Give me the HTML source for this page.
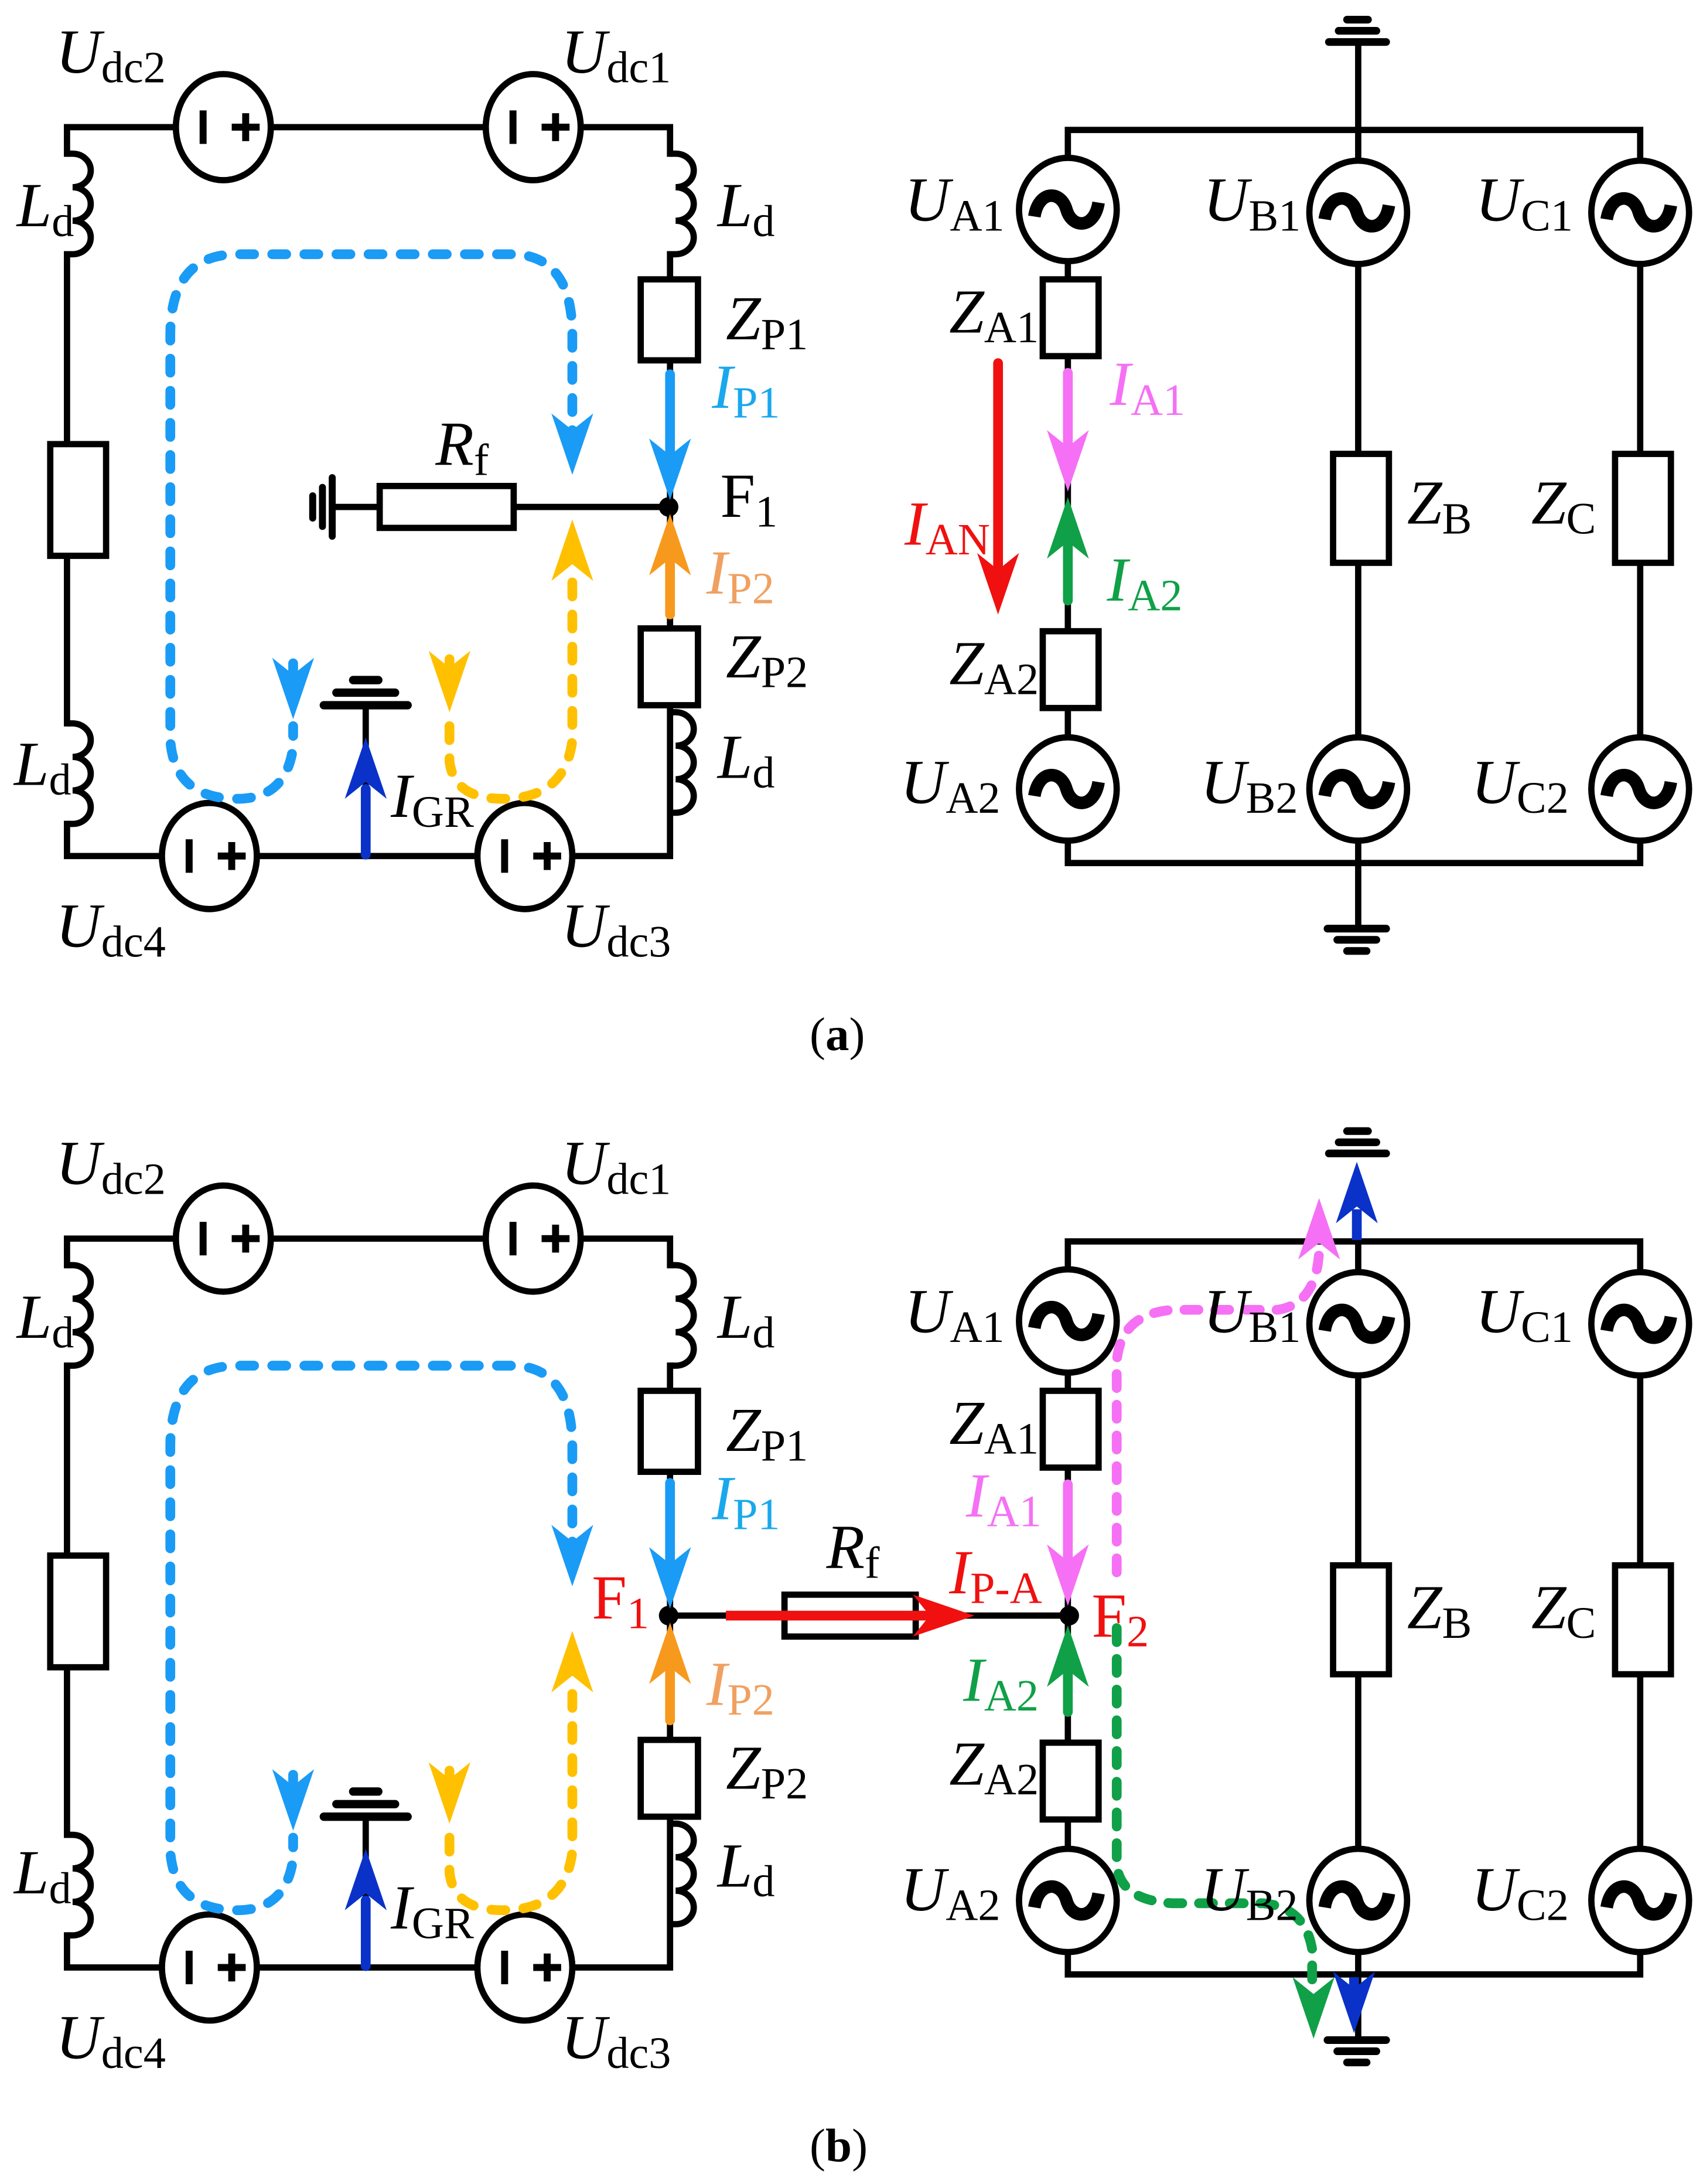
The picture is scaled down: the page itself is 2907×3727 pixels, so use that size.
<!DOCTYPE html>
<html><head><meta charset="utf-8"><style>
html,body{margin:0;padding:0;background:#fff}
svg{display:block}
text{font-family:"Liberation Serif","Times New Roman",serif}
</style></head><body>
<svg width="2907" height="3727" viewBox="0 0 1220 1564" xmlns="http://www.w3.org/2000/svg">
<defs>
<g id="dc"><ellipse cx="0" cy="0" rx="34" ry="38" fill="#fff" stroke="#000" stroke-width="4.5"/><rect x="-17" y="-12" width="5" height="24" fill="#000"/><rect x="6" y="-2.5" width="20" height="5" fill="#000"/><rect x="13.5" y="-10" width="5" height="20" fill="#000"/></g>
<g id="ac"><ellipse cx="0" cy="0" rx="35" ry="37" fill="#fff" stroke="#000" stroke-width="4.5"/><path d="M-24 5 C-21 -14 -5 -14 -1 0 C3 14 19 14 22 -5" fill="none" stroke="#000" stroke-width="9"/></g>
<path id="ind" d="M0 0 h4 a13 12 0 0 1 0 24 a13 12 0 0 1 0 24 a13 12 0 0 1 0 24 h-4" fill="none" stroke="#000" stroke-width="4.5"/>
<polygon id="ah" points="0,0 -15,-44 0,-32 15,-44"/>
</defs>

<g stroke="#000" stroke-width="4.5" fill="none" stroke-linecap="square">
<path d="M48 110 V91 H480 V110 M480 182 V613 H48 V590 M48 518 V182"/>
<line x1="240" y1="363" x2="478" y2="363"/>
<line x1="262" y1="613" x2="262" y2="505"/>
</g>
<use href="#ind" x="48" y="110"/><use href="#ind" x="48" y="518"/>
<use href="#ind" x="480" y="110"/><use href="#ind" x="480" y="510"/>
<g fill="#fff" stroke="#000" stroke-width="4.5">
<rect x="36" y="318" width="40" height="80"/>
<rect x="459" y="200" width="41" height="58"/>
<rect x="459" y="450" width="41" height="55"/>
<rect x="272" y="348" width="96" height="30"/>
</g>
<g stroke="#000" stroke-linecap="round">
<line x1="238" y1="342" x2="238" y2="384" stroke-width="5"/>
<line x1="231" y1="349" x2="231" y2="377" stroke-width="5"/>
<line x1="224" y1="355" x2="224" y2="371" stroke-width="5"/>
<line x1="232" y1="505" x2="292" y2="505" stroke-width="6"/>
<line x1="241" y1="496" x2="283" y2="496" stroke-width="6"/>
<line x1="253" y1="487" x2="271" y2="487" stroke-width="6"/>
</g>
<use href="#dc" x="160" y="91"/><use href="#dc" x="382" y="91"/>
<use href="#dc" x="150" y="613"/><use href="#dc" x="376" y="613"/>
<circle cx="479" cy="363" r="7" fill="#000"/>
<line x1="480" y1="268" x2="480" y2="330" stroke="#1a9bf5" stroke-width="7" stroke-linecap="round"/>
<use href="#ah" x="480" y="358" fill="#1a9bf5"/>
<line x1="480" y1="440" x2="480" y2="400" stroke="#f7991c" stroke-width="7" stroke-linecap="round"/>
<use href="#ah" transform="translate(480 368) rotate(180)" fill="#f7991c"/>
<line x1="262" y1="612" x2="262" y2="565" stroke="#0a32c8" stroke-width="7" stroke-linecap="round"/>
<use href="#ah" transform="translate(262 528) rotate(180)" fill="#0a32c8"/>
<g fill="none" stroke-width="7" stroke-linecap="round" stroke-dasharray="10 13">
<path d="M410 318 V240 Q410 185 370 182 H170 Q122 182 122 240 V530 Q125 572 170 572 Q205 572 210 535 V520" stroke="#1a9bf5"/>
<path d="M322 520 V545 Q325 572 360 572 Q405 572 410 530 V410" stroke="#ffc000"/>
</g>
<use href="#ah" x="410" y="340" fill="#1a9bf5"/>
<use href="#ah" x="210" y="515" fill="#1a9bf5"/>
<use href="#ah" x="322" y="510" fill="#ffc000"/>
<use href="#ah" transform="translate(410 372) rotate(180)" fill="#ffc000"/>
<line x1="322" y1="472" x2="322" y2="490" stroke="#ffc000" stroke-width="7" stroke-linecap="round"/>
<line x1="210" y1="475" x2="210" y2="490" stroke="#1a9bf5" stroke-width="7" stroke-linecap="round"/>

<g stroke="#000" stroke-width="4.5" fill="none" stroke-linecap="square">
<path d="M765 150 V93 H1175 V150 M765 150 V565 V618 H1175 V150 M973 30 V618 V665"/>
</g>
<g fill="#fff" stroke="#000" stroke-width="4.5">
<rect x="747" y="200" width="40" height="55"/>
<rect x="747" y="452" width="40" height="55"/>
<rect x="955" y="325" width="40" height="78"/>
<rect x="1157" y="325" width="40" height="78"/>
</g>
<g stroke="#000" stroke-linecap="round" stroke-width="5.5">
<line x1="952" y1="30" x2="993" y2="30"/><line x1="959" y1="22" x2="986" y2="22"/><line x1="965" y1="14" x2="980" y2="14"/>
<line x1="951" y1="665" x2="993" y2="665"/><line x1="958" y1="673" x2="986" y2="673"/><line x1="965" y1="681" x2="979" y2="681"/>
</g>
<use href="#ac" x="765" y="150"/><use href="#ac" x="973" y="152"/><use href="#ac" x="1175" y="152"/>
<use href="#ac" x="765" y="565"/><use href="#ac" x="973" y="565"/><use href="#ac" x="1175" y="565"/>
<line x1="715" y1="260" x2="715" y2="410" stroke="#f01010" stroke-width="7" stroke-linecap="round"/>
<use href="#ah" x="715" y="440" fill="#f01010"/>
<line x1="765" y1="267" x2="765" y2="325" stroke="#f570f5" stroke-width="7" stroke-linecap="round"/>
<use href="#ah" x="765" y="352" fill="#f570f5"/>
<line x1="765" y1="430" x2="765" y2="385" stroke="#10a048" stroke-width="7" stroke-linecap="round"/>
<use href="#ah" transform="translate(765 356) rotate(180)" fill="#10a048"/>

<g transform="translate(0 796)">
<g stroke="#000" stroke-width="4.5" fill="none" stroke-linecap="square">
<path d="M48 110 V91 H480 V110 M480 182 V613 H48 V590 M48 518 V182"/>
<line x1="478" y1="361" x2="766" y2="361"/>
<line x1="262" y1="613" x2="262" y2="505"/>
</g>
<use href="#ind" x="48" y="110"/><use href="#ind" x="48" y="518"/>
<use href="#ind" x="480" y="110"/><use href="#ind" x="480" y="510"/>
<g fill="#fff" stroke="#000" stroke-width="4.5">
<rect x="36" y="318" width="40" height="80"/>
<rect x="459" y="200" width="41" height="58"/>
<rect x="459" y="450" width="41" height="55"/>
<rect x="562" y="346" width="94" height="30"/>
</g>
<g stroke="#000" stroke-linecap="round">
<line x1="232" y1="505" x2="292" y2="505" stroke-width="6"/>
<line x1="241" y1="496" x2="283" y2="496" stroke-width="6"/>
<line x1="253" y1="487" x2="271" y2="487" stroke-width="6"/>
</g>
<use href="#dc" x="160" y="91"/><use href="#dc" x="382" y="91"/>
<use href="#dc" x="150" y="613"/><use href="#dc" x="376" y="613"/>
<line x1="520" y1="361" x2="672" y2="361" stroke="#f01010" stroke-width="7"/>
<use href="#ah" transform="translate(698 361) rotate(-90)" fill="#f01010"/>
<circle cx="479" cy="361" r="7" fill="#000"/>
<line x1="480" y1="266" x2="480" y2="328" stroke="#1a9bf5" stroke-width="7" stroke-linecap="round"/>
<use href="#ah" x="480" y="356" fill="#1a9bf5"/>
<line x1="480" y1="436" x2="480" y2="398" stroke="#f7991c" stroke-width="7" stroke-linecap="round"/>
<use href="#ah" transform="translate(480 366) rotate(180)" fill="#f7991c"/>
<line x1="262" y1="612" x2="262" y2="565" stroke="#0a32c8" stroke-width="7" stroke-linecap="round"/>
<use href="#ah" transform="translate(262 528) rotate(180)" fill="#0a32c8"/>
<g fill="none" stroke-width="7" stroke-linecap="round" stroke-dasharray="10 13">
<path d="M410 318 V240 Q410 185 370 182 H170 Q122 182 122 240 V530 Q125 572 170 572 Q205 572 210 535 V520" stroke="#1a9bf5"/>
<path d="M322 520 V545 Q325 572 360 572 Q405 572 410 530 V410" stroke="#ffc000"/>
</g>
<use href="#ah" x="410" y="340" fill="#1a9bf5"/>
<use href="#ah" x="210" y="515" fill="#1a9bf5"/>
<use href="#ah" x="322" y="510" fill="#ffc000"/>
<use href="#ah" transform="translate(410 372) rotate(180)" fill="#ffc000"/>
<line x1="322" y1="472" x2="322" y2="490" stroke="#ffc000" stroke-width="7" stroke-linecap="round"/>
<line x1="210" y1="475" x2="210" y2="490" stroke="#1a9bf5" stroke-width="7" stroke-linecap="round"/>
</g>

<g transform="translate(0 796)">
<g stroke="#000" stroke-width="4.5" fill="none" stroke-linecap="square">
<path d="M765 150 V93 H1175 V150 M765 150 V565 V618 H1175 V150 M973 80 V618 V665"/>
</g>
<g fill="#fff" stroke="#000" stroke-width="4.5">
<rect x="747" y="200" width="40" height="55"/>
<rect x="747" y="452" width="40" height="55"/>
<rect x="955" y="325" width="40" height="78"/>
<rect x="1157" y="325" width="40" height="78"/>
</g>
<g stroke="#000" stroke-linecap="round" stroke-width="5.5">
<line x1="952" y1="30" x2="993" y2="30"/><line x1="959" y1="22" x2="986" y2="22"/><line x1="965" y1="14" x2="980" y2="14"/>
<line x1="951" y1="665" x2="993" y2="665"/><line x1="958" y1="673" x2="986" y2="673"/><line x1="965" y1="681" x2="979" y2="681"/>
</g>
<use href="#ac" x="765" y="150"/><use href="#ac" x="973" y="152"/><use href="#ac" x="1175" y="152"/>
<use href="#ac" x="765" y="565"/><use href="#ac" x="973" y="565"/><use href="#ac" x="1175" y="565"/>
<circle cx="766" cy="361" r="7" fill="#000"/>
<line x1="765" y1="267" x2="765" y2="325" stroke="#f570f5" stroke-width="7" stroke-linecap="round"/>
<use href="#ah" x="765" y="354" fill="#f570f5"/>
<line x1="765" y1="430" x2="765" y2="395" stroke="#10a048" stroke-width="7" stroke-linecap="round"/>
<use href="#ah" transform="translate(765 368) rotate(180)" fill="#10a048"/>
<line x1="972" y1="92" x2="972" y2="70" stroke="#0a32c8" stroke-width="7"/>
<use href="#ah" transform="translate(972 36) rotate(180)" fill="#0a32c8"/>
<line x1="970" y1="620" x2="970" y2="636" stroke="#0a32c8" stroke-width="7"/>
<use href="#ah" x="970" y="660" fill="#0a32c8"/>
<g fill="none" stroke-width="7" stroke-linecap="round" stroke-dasharray="10 12">
<path d="M800 330 V180 Q802 145 840 142 H915 Q943 138 945 100 V78" stroke="#f570f5"/>
<path d="M800 370 V540 Q803 565 840 567 H905 Q935 570 940 600 V630" stroke="#10a048"/>
</g>
<use href="#ah" transform="translate(945 62) rotate(180)" fill="#f570f5"/>
<use href="#ah" x="941" y="664" fill="#10a048"/>
</g>

<g font-size="45" fill="#000" font-family="Liberation Serif, serif">
<text x="40" y="52"><tspan font-style="italic">U</tspan><tspan font-size="32" dy="7">dc2</tspan></text>
<text x="402" y="52"><tspan font-style="italic">U</tspan><tspan font-size="32" dy="7">dc1</tspan></text>
<text x="12" y="162"><tspan font-style="italic">L</tspan><tspan font-size="32" dy="7">d</tspan></text>
<text x="514" y="162"><tspan font-style="italic">L</tspan><tspan font-size="32" dy="7">d</tspan></text>
<text x="520" y="243"><tspan font-style="italic">Z</tspan><tspan font-size="32" dy="7">P1</tspan></text>
<text x="510" y="292" fill="#1aa8ec"><tspan font-style="italic">I</tspan><tspan font-size="32" dy="7">P1</tspan></text>
<text x="312" y="333"><tspan font-style="italic">R</tspan><tspan font-size="32" dy="7">f</tspan></text>
<text x="516" y="370">F<tspan font-size="32" dy="7">1</tspan></text>
<text x="506" y="425" fill="#f0a060"><tspan font-style="italic">I</tspan><tspan font-size="32" dy="7">P2</tspan></text>
<text x="520" y="485"><tspan font-style="italic">Z</tspan><tspan font-size="32" dy="7">P2</tspan></text>
<text x="514" y="557"><tspan font-style="italic">L</tspan><tspan font-size="32" dy="7">d</tspan></text>
<text x="10" y="562"><tspan font-style="italic">L</tspan><tspan font-size="32" dy="7">d</tspan></text>
<text x="280" y="585"><tspan font-style="italic">I</tspan><tspan font-size="32" dy="7">GR</tspan></text>
<text x="40" y="678"><tspan font-style="italic">U</tspan><tspan font-size="32" dy="7">dc4</tspan></text>
<text x="402" y="678"><tspan font-style="italic">U</tspan><tspan font-size="32" dy="7">dc3</tspan></text>

<text x="648" y="158"><tspan font-style="italic">U</tspan><tspan font-size="32" dy="7">A1</tspan></text>
<text x="862" y="158"><tspan font-style="italic">U</tspan><tspan font-size="32" dy="7">B1</tspan></text>
<text x="1057" y="158"><tspan font-style="italic">U</tspan><tspan font-size="32" dy="7">C1</tspan></text>
<text x="680" y="238"><tspan font-style="italic">Z</tspan><tspan font-size="32" dy="7">A1</tspan></text>
<text x="795" y="290" fill="#f570f5"><tspan font-style="italic">I</tspan><tspan font-size="32" dy="7">A1</tspan></text>
<text x="648" y="390" fill="#f01010"><tspan font-style="italic">I</tspan><tspan font-size="32" dy="7">AN</tspan></text>
<text x="793" y="430" fill="#10a048"><tspan font-style="italic">I</tspan><tspan font-size="32" dy="7">A2</tspan></text>
<text x="680" y="490"><tspan font-style="italic">Z</tspan><tspan font-size="32" dy="7">A2</tspan></text>
<text x="1008" y="375"><tspan font-style="italic">Z</tspan><tspan font-size="32" dy="7">B</tspan></text>
<text x="1097" y="375"><tspan font-style="italic">Z</tspan><tspan font-size="32" dy="7">C</tspan></text>
<text x="645" y="575"><tspan font-style="italic">U</tspan><tspan font-size="32" dy="7">A2</tspan></text>
<text x="860" y="575"><tspan font-style="italic">U</tspan><tspan font-size="32" dy="7">B2</tspan></text>
<text x="1054" y="575"><tspan font-style="italic">U</tspan><tspan font-size="32" dy="7">C2</tspan></text>
<text x="580" y="752" font-size="34">(<tspan font-weight="bold">a</tspan>)</text>

<g transform="translate(0 796)">
<text x="40" y="52"><tspan font-style="italic">U</tspan><tspan font-size="32" dy="7">dc2</tspan></text>
<text x="402" y="52"><tspan font-style="italic">U</tspan><tspan font-size="32" dy="7">dc1</tspan></text>
<text x="12" y="162"><tspan font-style="italic">L</tspan><tspan font-size="32" dy="7">d</tspan></text>
<text x="514" y="162"><tspan font-style="italic">L</tspan><tspan font-size="32" dy="7">d</tspan></text>
<text x="520" y="243"><tspan font-style="italic">Z</tspan><tspan font-size="32" dy="7">P1</tspan></text>
<text x="510" y="292" fill="#1aa8ec"><tspan font-style="italic">I</tspan><tspan font-size="32" dy="7">P1</tspan></text>
<text x="592" y="327"><tspan font-style="italic">R</tspan><tspan font-size="32" dy="7">f</tspan></text>
<text x="424" y="363" fill="#f01010">F<tspan font-size="32" dy="7">1</tspan></text>
<text x="680" y="345" fill="#f01010"><tspan font-style="italic">I</tspan><tspan font-size="32" dy="7">P-A</tspan></text>
<text x="782" y="376" fill="#f01010">F<tspan font-size="32" dy="7">2</tspan></text>
<text x="506" y="425" fill="#f0a060"><tspan font-style="italic">I</tspan><tspan font-size="32" dy="7">P2</tspan></text>
<text x="520" y="485"><tspan font-style="italic">Z</tspan><tspan font-size="32" dy="7">P2</tspan></text>
<text x="514" y="555"><tspan font-style="italic">L</tspan><tspan font-size="32" dy="7">d</tspan></text>
<text x="10" y="560"><tspan font-style="italic">L</tspan><tspan font-size="32" dy="7">d</tspan></text>
<text x="280" y="585"><tspan font-style="italic">I</tspan><tspan font-size="32" dy="7">GR</tspan></text>
<text x="40" y="678"><tspan font-style="italic">U</tspan><tspan font-size="32" dy="7">dc4</tspan></text>
<text x="402" y="678"><tspan font-style="italic">U</tspan><tspan font-size="32" dy="7">dc3</tspan></text>

<text x="648" y="158"><tspan font-style="italic">U</tspan><tspan font-size="32" dy="7">A1</tspan></text>
<text x="862" y="158"><tspan font-style="italic">U</tspan><tspan font-size="32" dy="7">B1</tspan></text>
<text x="1057" y="158"><tspan font-style="italic">U</tspan><tspan font-size="32" dy="7">C1</tspan></text>
<text x="680" y="238"><tspan font-style="italic">Z</tspan><tspan font-size="32" dy="7">A1</tspan></text>
<text x="692" y="290" fill="#f570f5"><tspan font-style="italic">I</tspan><tspan font-size="32" dy="7">A1</tspan></text>
<text x="690" y="422" fill="#10a048"><tspan font-style="italic">I</tspan><tspan font-size="32" dy="7">A2</tspan></text>
<text x="680" y="482"><tspan font-style="italic">Z</tspan><tspan font-size="32" dy="7">A2</tspan></text>
<text x="1008" y="370"><tspan font-style="italic">Z</tspan><tspan font-size="32" dy="7">B</tspan></text>
<text x="1097" y="370"><tspan font-style="italic">Z</tspan><tspan font-size="32" dy="7">C</tspan></text>
<text x="645" y="572"><tspan font-style="italic">U</tspan><tspan font-size="32" dy="7">A2</tspan></text>
<text x="860" y="572"><tspan font-style="italic">U</tspan><tspan font-size="32" dy="7">B2</tspan></text>
<text x="1054" y="572"><tspan font-style="italic">U</tspan><tspan font-size="32" dy="7">C2</tspan></text>
<text x="580" y="752" font-size="34">(<tspan font-weight="bold">b</tspan>)</text>
</g>
</g>
</svg>
</body></html>
